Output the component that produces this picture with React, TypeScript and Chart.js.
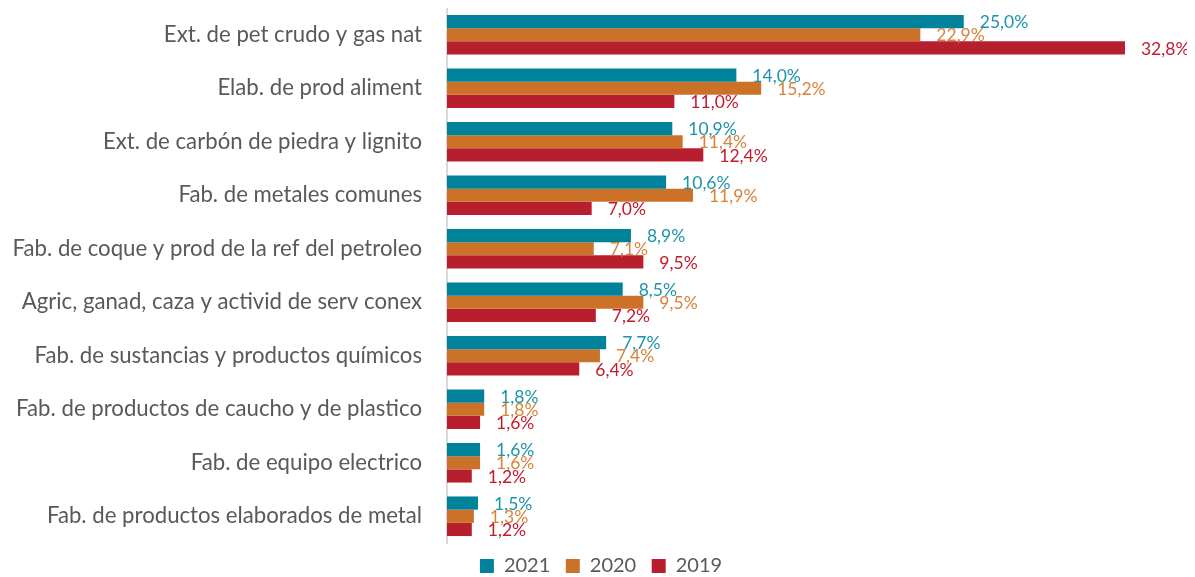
import React, { useEffect, useRef } from "react";
import { Chart, registerables } from "chart.js";

Chart.register(...registerables);

const categories = [
  "Ext. de pet crudo y gas nat",
  "Elab. de prod aliment",
  "Ext. de carbón de piedra y lignito",
  "Fab. de metales comunes",
  "Fab. de coque y prod de la ref del petroleo",
  "Agric, ganad, caza y activid de serv conex",
  "Fab. de sustancias y productos químicos",
  "Fab. de productos de caucho y de plastico",
  "Fab. de equipo electrico",
  "Fab. de productos elaborados de metal",
];

const values2021 = [25.0, 14.0, 10.9, 10.6, 8.9, 8.5, 7.7, 1.8, 1.6, 1.5];
const values2020 = [22.9, 15.2, 11.4, 11.9, 7.1, 9.5, 7.4, 1.8, 1.6, 1.3];
const values2019 = [32.8, 11.0, 12.4, 7.0, 9.5, 7.2, 6.4, 1.6, 1.2, 1.2];

const seriesLabels = ["2021", "2020", "2019"];
const barColors = ["#00839A", "#CB7228", "#B71F2E"];
const labelColors = ["#1C94A8", "#D8833A", "#C41A2C"];

const FONT = "Lato, 'Open Sans', sans-serif";

const dataLabelPlugin = {
  id: "dataLabels",
  afterDatasetsDraw(chart: any) {
    const ctx = chart.ctx;
    ctx.save();
    ctx.font = `17.5px ${FONT}`;
    ctx.textAlign = "left";
    ctx.textBaseline = "middle";
    chart.data.datasets.forEach((ds: any, di: number) => {
      const meta = chart.getDatasetMeta(di);
      meta.data.forEach((el: any, i: number) => {
        const v = ds.data[i] as number;
        const txt = v.toFixed(1).replace(".", ",") + "%";
        ctx.fillStyle = labelColors[di];
        ctx.fillText(txt, el.x + 16, el.y + 1);
      });
    });
    ctx.restore();
  },
};

export default function App() {
  const ref = useRef<HTMLCanvasElement | null>(null);
  useEffect(() => {
    if (!ref.current) return;
    const datasets = [values2021, values2020, values2019].map((d, i) => ({
      label: seriesLabels[i],
      data: d,
      backgroundColor: barColors[i],
      borderWidth: 0,
      categoryPercentage: 0.74,
      barPercentage: 1.0,
    }));
    const chart = new Chart(ref.current, {
      type: "bar",
      data: { labels: categories, datasets },
      plugins: [dataLabelPlugin],
      options: {
        indexAxis: "y",
        animation: false,
        responsive: true,
        maintainAspectRatio: false,
        layout: { padding: { left: 0, right: 1, top: 0, bottom: 0 } },
        scales: {
          x: {
            display: false,
            min: 0,
            max: 36.14,
          },
          y: {
            afterFit: (s: any) => {
              s.width = 439;
              s.paddingTop = 0;
              s.paddingBottom = 0;
            },
            grid: { display: false, drawTicks: false },
            border: { display: true, color: "#D9D9D9", width: 2 },
            ticks: {
              padding: 25,
              color: "#595959",
              font: { family: FONT, size: 22.2 },
            },
          },
        },
        plugins: {
          tooltip: { enabled: false },
          legend: {
            position: "bottom",
            labels: {
              boxWidth: 14,
              boxHeight: 14,
              padding: 13,
              color: "#595959",
              font: { family: FONT, size: 20 },
              generateLabels: (c: any) => {
                const items = Chart.defaults.plugins.legend.labels.generateLabels(c);
                return items.map((it: any, i: number) => ({
                  ...it,
                  text: i < items.length - 1 ? it.text + "\u2009" : it.text,
                }));
              },
            },
          },
        },
      },
    });
    return () => chart.destroy();
  }, []);
  return (
    <div style={{ position: "relative", width: 1187, height: 578 }}>
      <canvas ref={ref} />
    </div>
  );
}
